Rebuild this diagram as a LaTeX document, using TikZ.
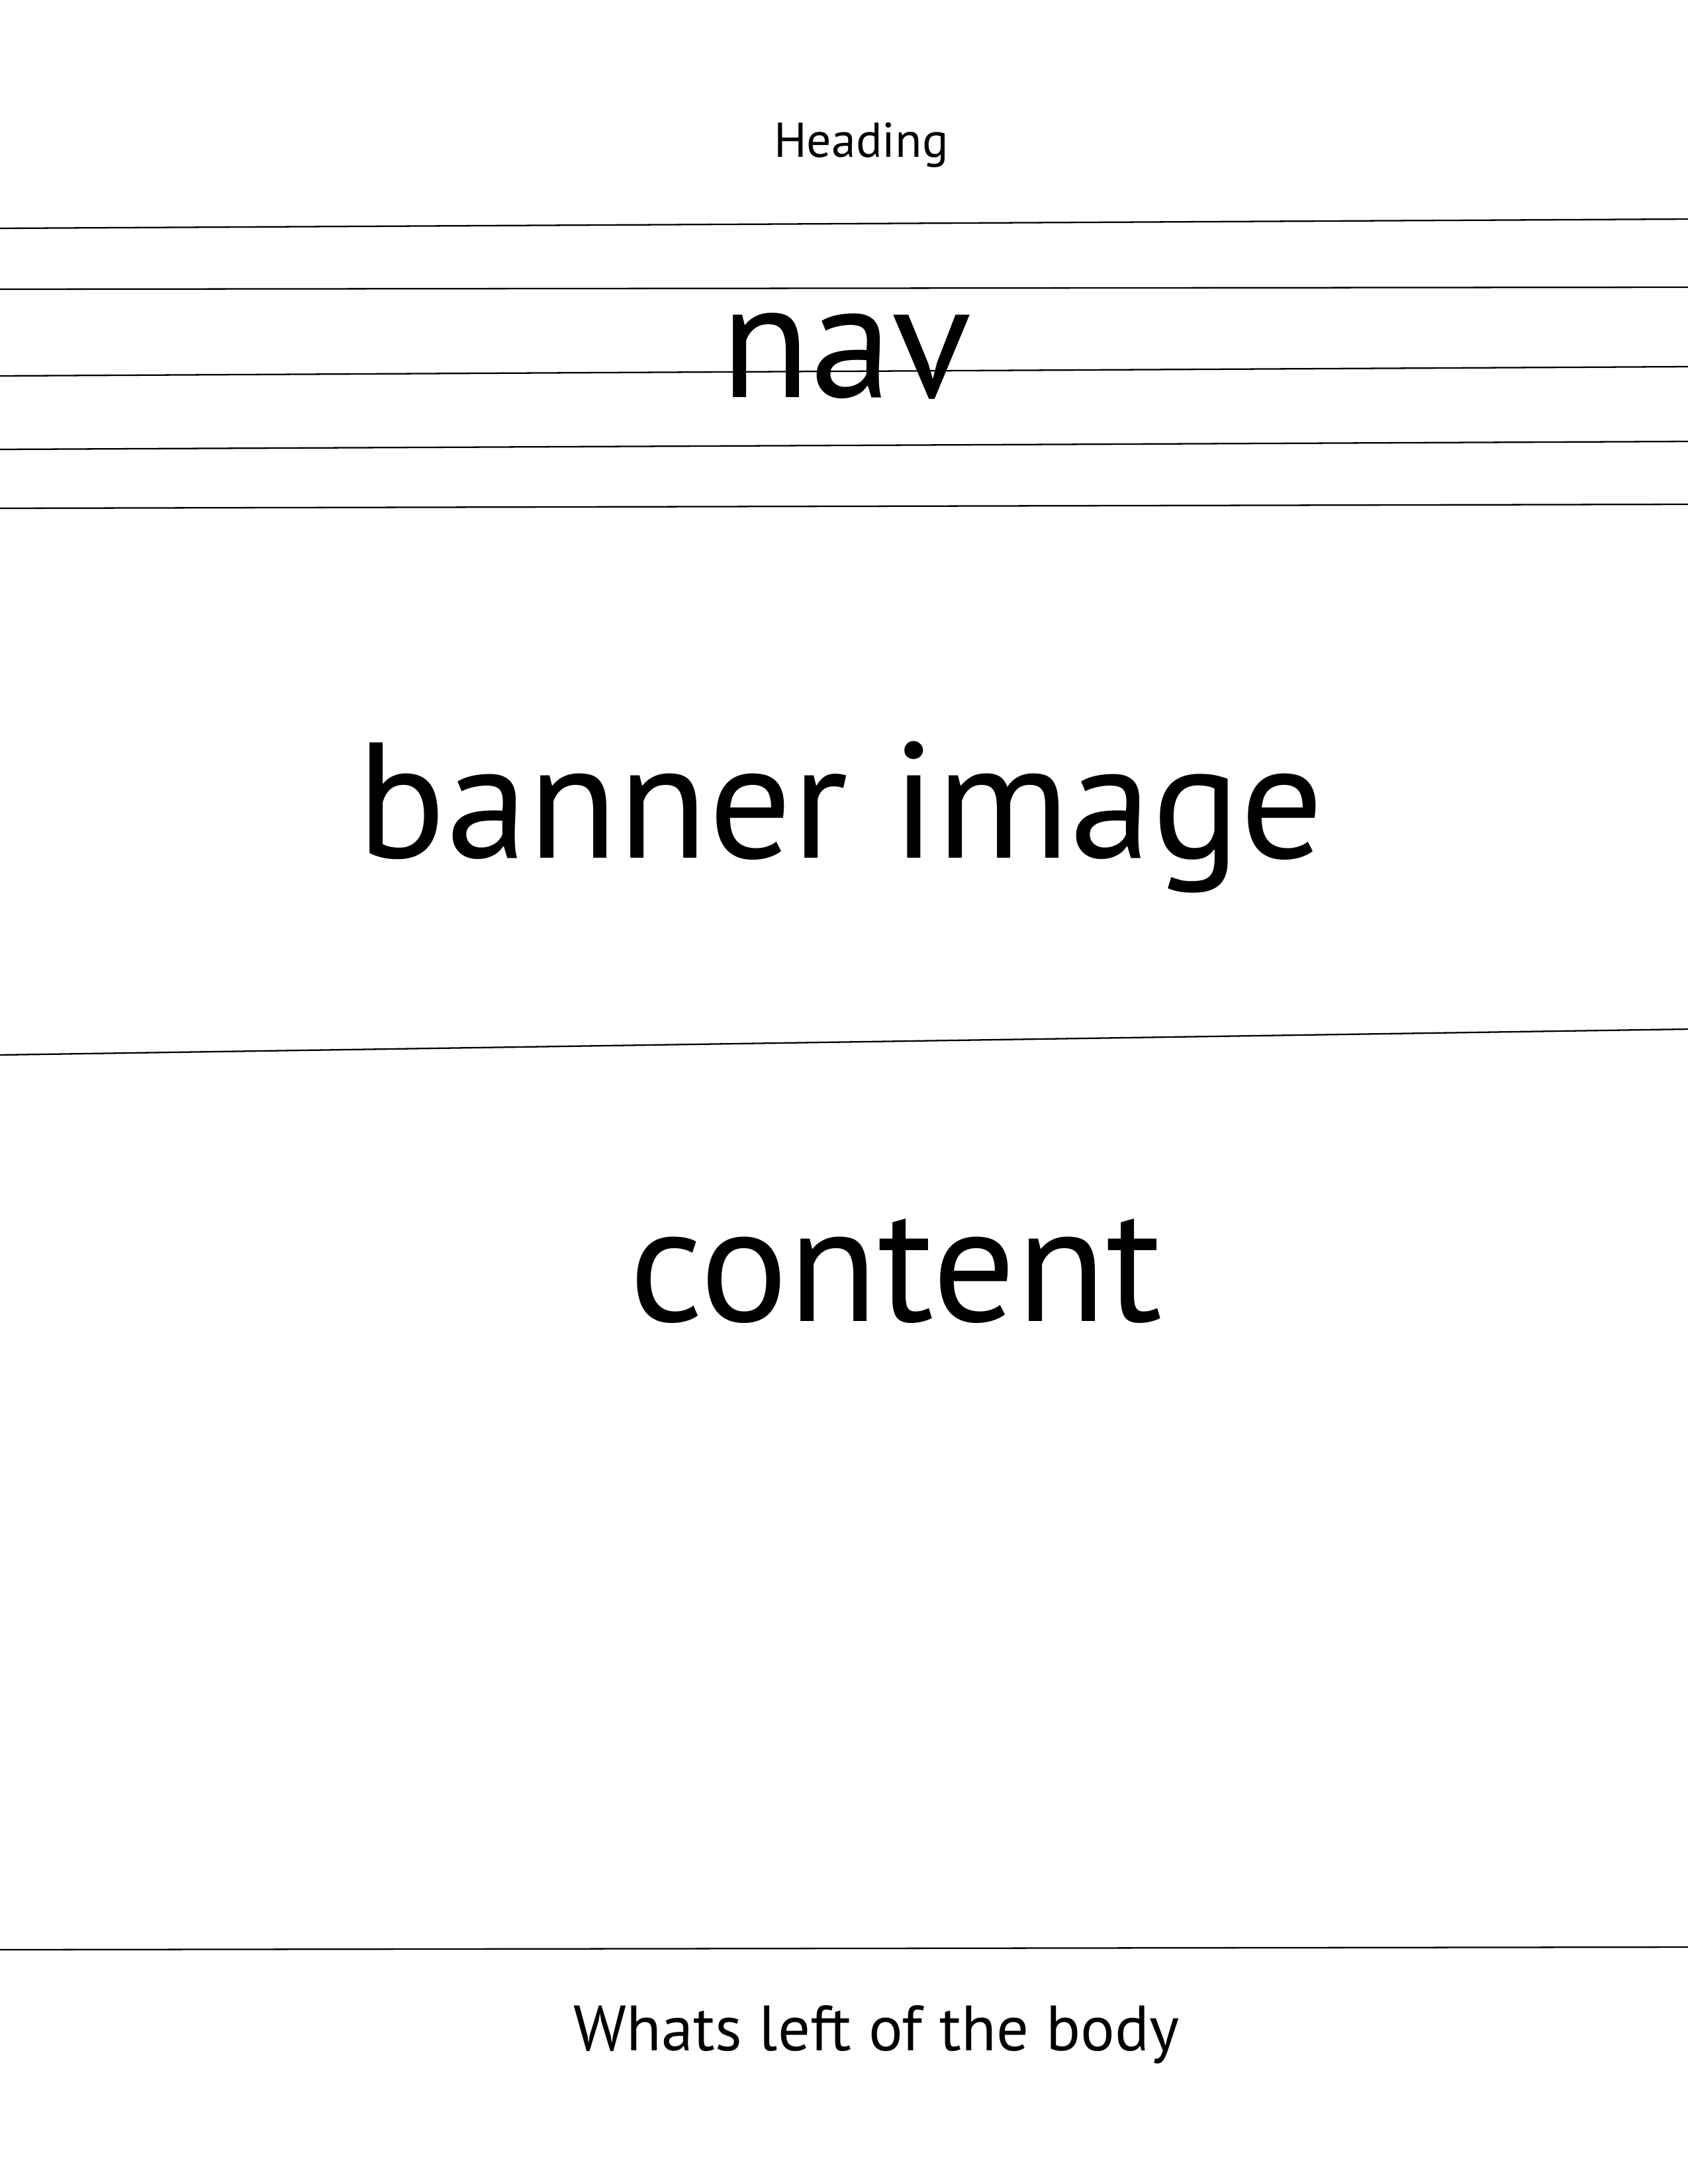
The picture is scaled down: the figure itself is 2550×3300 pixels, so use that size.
\documentclass[tikz,border=0pt]{standalone}
\usepackage{fontspec}
\setmainfont{PT Sans}
\begin{document}
\begin{tikzpicture}[x=0.0084667cm,y=-0.0084667cm,
  rule/.style={line width=0.55pt,black},
  lbl/.style={inner sep=0pt,anchor=base},
  big/.style={lbl,font=\fontsize{60}{72}\selectfont},
  small/.style={lbl,font=\fontsize{17.8}{21}\selectfont},
  mid/.style={lbl,font=\fontsize{23.3}{28}\selectfont}]
\useasboundingbox[fill=white] (0,0) rectangle (2550,3300);
\draw[rule] (0,345) -- (2550,331);
\draw[rule] (0,437) -- (2550,434);
\draw[rule] (0,568) -- (2550,554);
\draw[rule] (0,679) -- (2550,667);
\draw[rule] (0,768) -- (2550,762);
\draw[rule] (0,1594) -- (2550,1555);
\draw[rule] (0,2946) -- (2550,2942);
\node[small] (heading) at (1301,237) {Heading};
\node[big] (nav) at (1278,600) {nav};
\node[big] (banner) at (1270,1296) {banner image};
\node[big] (content) at (1353,1996) {content};
\node[mid] (body) at (1324,3098) {Whats left of the body};
\end{tikzpicture}
\end{document}
